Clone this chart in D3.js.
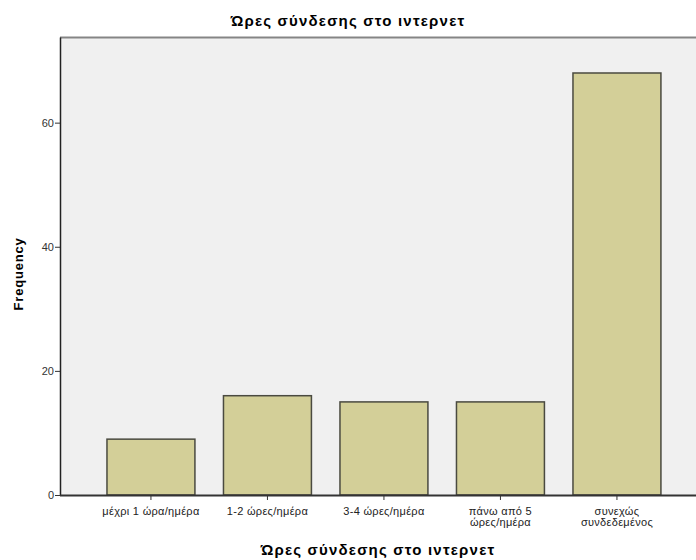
<!DOCTYPE html>
<html>
<head>
<meta charset="utf-8">
<script src="https://cdn.jsdelivr.net/npm/d3@7"></script>
<style>
  body { margin: 0; background: #fff; }
  svg { display: block; font-family: "Liberation Sans", Arial, sans-serif; }
</style>
</head>
<body>
<div class="container"></div>
<script>
const categories = [
  ["μέχρι 1 ώρα/ημέρα"],
  ["1-2 ώρες/ημέρα"],
  ["3-4 ώρες/ημέρα"],
  ["πάνω από 5", "ώρες/ημέρα"],
  ["συνεχώς", "συνδεδεμένος"]
];
const frequencies = [9, 16, 15, 15, 68];
const yTicks = [0, 20, 40, 60];
const chartTitle = "Ώρες σύνδεσης στο ιντερνετ";
const xTitle = "Ώρες σύνδεσης στο ιντερνετ";
const yTitle = "Frequency";

const width = 696;
const height = 560;
const plotLeft = 60;
const plotTop = 37;
const plotBottom = 495;

const data = categories.map((c, i) => ({ key: i, label: c, num: frequencies[i] }));

const svg = d3
  .select(".container")
  .append("svg")
  .attr("width", width)
  .attr("height", height);

const xScale = d3
  .scaleBand()
  .domain(d3.range(data.length))
  .range([92.7, 675.2])
  .paddingInner(0.245)
  .paddingOuter(0.1225);

const yScale = d3
  .scaleLinear()
  .domain([0, 73.8])
  .range([plotBottom, plotTop]);

// plot background
svg
  .append("rect")
  .attr("x", plotLeft)
  .attr("y", plotTop)
  .attr("width", width - plotLeft)
  .attr("height", plotBottom - plotTop)
  .attr("fill", "#f0f0f0");

svg
  .append("line")
  .attr("x1", plotLeft)
  .attr("x2", width)
  .attr("y1", plotTop + 0.5)
  .attr("y2", plotTop + 0.5)
  .attr("stroke", "#858585")
  .attr("stroke-width", 2);

// bars
svg
  .append("g")
  .selectAll("rect")
  .data(data)
  .enter()
  .append("rect")
  .attr("x", d => xScale(d.key))
  .attr("y", d => yScale(d.num))
  .attr("width", xScale.bandwidth())
  .attr("height", d => plotBottom - yScale(d.num))
  .attr("fill", "#d3cf98")
  .attr("stroke", "#4a4a40")
  .attr("stroke-width", 1.5);

// y axis
const yAxis = svg
  .append("g")
  .attr("transform", `translate(${plotLeft},0)`)
  .call(d3.axisLeft(yScale).tickValues(yTicks).tickSize(5).tickSizeOuter(0));
yAxis.select(".domain").attr("stroke", "#222").attr("stroke-width", 1.5);
yAxis.selectAll(".tick line").attr("stroke", "#333");
yAxis
  .selectAll(".tick text")
  .attr("font-size", 11)
  .attr("fill", "#333")
  .attr("x", -6)
  .attr("font-family", "Liberation Sans, Arial, sans-serif");

// x axis
const xAxis = svg
  .append("g")
  .attr("transform", `translate(0,${plotBottom})`)
  .call(d3.axisBottom(xScale).tickSize(5).tickSizeOuter(0).tickFormat(""));
xAxis.select(".domain").attr("d", `M${plotLeft},0.5H${width}`).attr("stroke", "#333").attr("stroke-width", 2);
xAxis.selectAll(".tick line").attr("stroke", "#333");

const catLabels = svg
  .append("g")
  .selectAll("text")
  .data(data)
  .enter()
  .append("text")
  .attr("x", d => xScale(d.key) + xScale.bandwidth() / 2)
  .attr("y", plotBottom + 20)
  .attr("text-anchor", "middle")
  .attr("font-size", 11)
  .attr("letter-spacing", 0.3)
  .attr("fill", "#222");
catLabels
  .selectAll("tspan")
  .data(d => d.label)
  .enter()
  .append("tspan")
  .attr("x", function () { return d3.select(this.parentNode).attr("x"); })
  .attr("dy", (d, i) => (i === 0 ? 0 : 11))
  .text(d => d);

// titles
svg
  .append("text")
  .attr("x", width / 2)
  .attr("y", 26)
  .attr("text-anchor", "middle")
  .attr("font-size", 15)
  .attr("letter-spacing", 1.2)
  .attr("font-weight", "bold")
  .text(chartTitle);

svg
  .append("text")
  .attr("x", (plotLeft + width) / 2)
  .attr("y", 555)
  .attr("text-anchor", "middle")
  .attr("font-size", 15)
  .attr("letter-spacing", 1.2)
  .attr("font-weight", "bold")
  .text(xTitle);

svg
  .append("text")
  .attr("transform", `translate(23,${(plotTop + plotBottom) / 2 + 8}) rotate(-90)`)
  .attr("text-anchor", "middle")
  .attr("font-size", 13)
  .attr("letter-spacing", 0.8)
  .attr("font-weight", "bold")
  .text(yTitle);
</script>
</body>
</html>
